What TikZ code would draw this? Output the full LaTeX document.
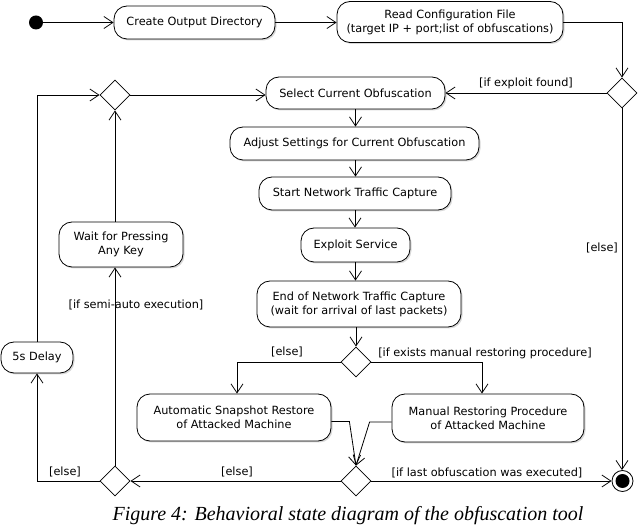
\documentclass[tikz,border=0pt]{standalone}
\usepackage{fontspec}
\setmainfont{DejaVu Sans}
\newfontfamily\capfont{Liberation Serif}
\usetikzlibrary{shapes.geometric, arrows.meta, shadows}

\begin{document}
\begin{tikzpicture}[x=1pt, y=-1pt,
  font=\fontsize{11.3}{13.8}\selectfont,
  act/.style={draw, line width=0.8pt, fill=white, rounded corners=13pt, inner sep=0pt, align=center,
    drop shadow={shadow xshift=1.5pt, shadow yshift=-1.5pt, opacity=0.3, fill=gray}},
  dec/.style={draw, diamond, fill=white, minimum width=30pt, minimum height=30pt, inner sep=0pt, line width=0.8pt},
  flow/.style={line width=0.8pt, -{Straight Barb[length=9pt, width=12pt]}},
  lab/.style={inner sep=0pt}
]
\useasboundingbox (0,0) rectangle (640,526);
\fill[white] (0,0) rectangle (640,526);

% nodes
\node[circle, fill=black, minimum size=14pt, inner sep=0pt] (start) at (36,22.5) {};
\node[act, minimum width=161pt, minimum height=33pt] (create) at (194.5,22.5) {Create Output Directory};
\node[act, minimum width=226pt, minimum height=41pt] (read) at (450,22) {Read Configuration File\\(target IP + port;list of obfuscations)};
\node[dec] (rd) at (622,93) {};
\node[dec] (ltop) at (115,95) {};
\node[act, minimum width=179pt, minimum height=32pt] (select) at (355.5,93) {Select Current Obfuscation};
\node[act, minimum width=249pt, minimum height=33pt] (adjust) at (354.5,143.5) {Adjust Settings for Current Obfuscation};
\node[act, minimum width=192pt, minimum height=33pt] (startcap) at (355,193.5) {Start Network Traffic Capture};
\node[act, minimum width=109pt, minimum height=34pt] (exploit) at (355.5,245) {Exploit Service};
\node[act, minimum width=204pt, minimum height=46pt] (endcap) at (359,304) {End of Network Traffic Capture\\(wait for arrival of last packets)};
\node[dec] (d1) at (356,362) {};
\node[act, minimum width=194pt, minimum height=47pt] (auto) at (234,417.5) {Automatic Snapshot Restore\\of Attacked Machine};
\node[act, minimum width=192pt, minimum height=48pt] (manual) at (488,418) {Manual Restoring Procedure\\of Attacked Machine};
\node[dec] (merge) at (356,481) {};
\node[dec] (lbot) at (115,481) {};
\node[act, minimum width=72pt, minimum height=31pt] (delay) at (37,357.5) {5s Delay};
\node[act, minimum width=124pt, minimum height=45pt] (wait) at (121,244.5) {Wait for Pressing\\Any Key};
\node[circle, draw, line width=0.8pt, fill=white, minimum size=21pt, inner sep=0pt] (final) at (622.5,481) {};
\fill (final.center) circle (7pt);

% labels
\node[lab] (lexp) at (526,83) {[if exploit found]};
\node[lab] (lelse1) at (602,248) {[else]};
\node[lab] (lelse2) at (287,352) {[else]};
\node[lab] (lman) at (485,353) {[if exists manual restoring procedure]};
\node[lab] (lelse3) at (237,472) {[else]};
\node[lab] (lelse4) at (65,472) {[else]};
\node[lab] (llast) at (487,473) {[if last obfuscation was executed]};
\node[lab] (lsemi) at (136,305) {[if semi-auto execution]};

% connectors
\draw[flow] (start) -- (create);
\draw[flow] (create.east) -- (create.east -| read.west);
\draw[flow] (read.east) -| (rd.north);
\draw[flow] (rd.west) -- (select.east);
\draw[flow] (rd.south) -- (rd.south |- final.north);
\draw[flow] (select.south) -- (select.south |- adjust.north);
\draw[flow] (select.south |- adjust.south) -- (select.south |- startcap.north);
\draw[flow] (startcap.south) -- (startcap.south |- exploit.north);
\draw[flow] (exploit.south) -- (exploit.south |- endcap.north);
\draw[flow] (d1.north |- endcap.south) -- (d1.north);
\draw[flow] (d1.west) -| ([xshift=3pt]auto.north);
\draw[flow] (d1.east) -| ([xshift=-6pt]manual.north);
\draw[flow] ([yshift=-4pt]auto.east) -- ++(18,0) -- (merge.north);
\draw[flow] ([yshift=-4pt]manual.west) -- ++(-22,0) -- (merge.north);
\draw[flow] (merge.west) -- (lbot.east);
\draw[flow] (merge.east) -- (final.west);
\draw[flow] (lbot.west) -| (delay.south);
\draw[flow] (lbot.north) -- (lbot.north |- wait.south);
\draw[flow] (lbot.north |- wait.north) -- (ltop.south);
\draw[flow] (delay.north) |- (ltop.west);
\draw[flow] (ltop.east) -- (ltop.east -| select.west);

% caption
\node[font=\capfont\itshape\fontsize{20}{24}\selectfont, anchor=base, inner sep=0pt] (cap) at (348,520) {Figure 4: Behavioral state diagram of the obfuscation tool};
\end{tikzpicture}
\end{document}
